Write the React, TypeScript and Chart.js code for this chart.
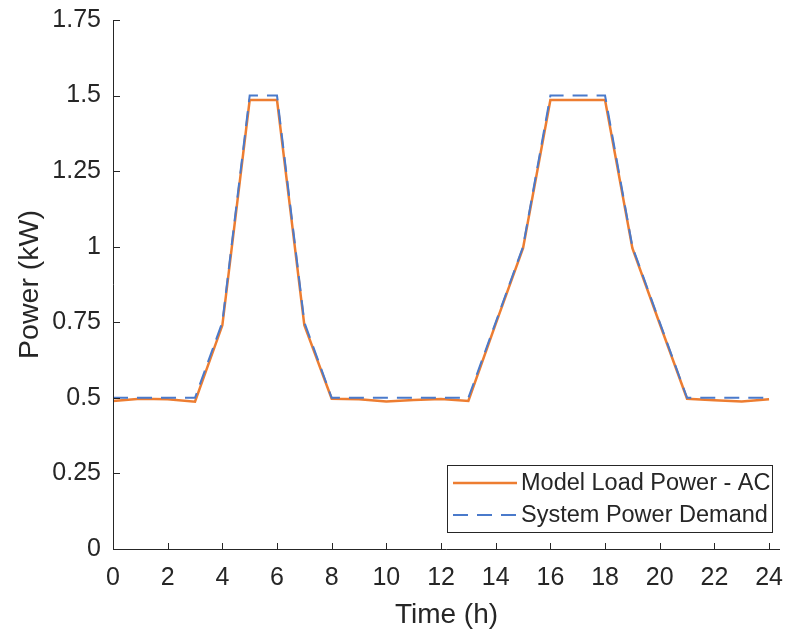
import { useEffect, useRef } from "react";
import { Chart, registerables } from "chart.js";

Chart.register(...registerables);

const hours = [0, 1, 2, 3, 4, 5, 6, 7, 8, 9, 10, 11, 12, 13, 14, 15, 16, 17, 18, 19, 20, 21, 22, 23, 24];
const modelLoadAC = [0.49, 0.497, 0.495, 0.487, 0.74, 1.485, 1.485, 0.74, 0.497, 0.495, 0.488, 0.493, 0.496, 0.49, 0.745, 0.995, 1.485, 1.485, 1.485, 0.995, 0.745, 0.497, 0.492, 0.488, 0.495];
const systemDemand = [0.5, 0.5, 0.5, 0.5, 0.75, 1.5, 1.5, 0.75, 0.5, 0.5, 0.5, 0.5, 0.5, 0.5, 0.75, 1.0, 1.5, 1.5, 1.5, 1.0, 0.75, 0.5, 0.5, 0.5, 0.5];
const seriesLabels = ["Model Load Power - AC", "System Power Demand"];
const xTickValues = [0, 2, 4, 6, 8, 10, 12, 14, 16, 18, 20, 22, 24];
const yTickValues = [0, 0.25, 0.5, 0.75, 1, 1.25, 1.5, 1.75];
const yTickLabels = ["0", "0.25", "0.5", "0.75", "1", "1.25", "1.5", "1.75"];

const FONT = "'Liberation Sans', Arial, Helvetica, sans-serif";
const INK = "#262626";
const ORANGE = "#ED7D31";
const BLUE = "#4A7ACB";

const axesPlugin = {
  id: "matlabAxes",
  afterDraw(chart: any) {
    const { ctx, chartArea, scales } = chart;
    const xs = scales.x;
    const ys = scales.y;
    ctx.save();
    ctx.strokeStyle = INK;
    ctx.lineWidth = 1;
    ctx.beginPath();
    ctx.moveTo(chartArea.left + 0.5, chartArea.top);
    ctx.lineTo(chartArea.left + 0.5, chartArea.bottom + 0.5);
    ctx.lineTo(chartArea.right, chartArea.bottom + 0.5);
    ctx.stroke();
    ctx.beginPath();
    for (const v of xTickValues) {
      const px = Math.round(xs.getPixelForValue(v)) + 0.5;
      ctx.moveTo(px, chartArea.bottom);
      ctx.lineTo(px, chartArea.bottom - 6);
    }
    for (const v of yTickValues) {
      const py = Math.round(ys.getPixelForValue(v)) + 0.5;
      ctx.moveTo(chartArea.left, py);
      ctx.lineTo(chartArea.left + 7, py);
    }
    ctx.stroke();

    // legend box (southeast)
    const boxRight = chartArea.right - 7;
    const boxLeft = boxRight - 326;
    const boxBottom = chartArea.bottom - 16;
    const boxTop = boxBottom - 68;
    ctx.fillStyle = "#ffffff";
    ctx.fillRect(boxLeft, boxTop, boxRight - boxLeft, boxBottom - boxTop);
    ctx.strokeStyle = INK;
    ctx.lineWidth = 1;
    ctx.strokeRect(boxLeft + 0.5, boxTop + 0.5, boxRight - boxLeft - 1, boxBottom - boxTop - 1);
    const rows = [boxTop + 18, boxTop + 50];
    chart.data.datasets.forEach((ds: any, i: number) => {
      const y = rows[i];
      ctx.save();
      ctx.strokeStyle = ds.borderColor;
      ctx.lineWidth = ds.borderWidth;
      ctx.setLineDash(ds.borderDash || []);
      ctx.beginPath();
      ctx.moveTo(boxLeft + 6, y);
      ctx.lineTo(boxLeft + 70, y);
      ctx.stroke();
      ctx.restore();
      ctx.fillStyle = INK;
      ctx.font = `23.5px ${FONT}`;
      ctx.textBaseline = "middle";
      ctx.textAlign = "left";
      ctx.fillText(ds.label, boxLeft + 74, y + 1);
    });
    ctx.restore();
  },
};

export default function App() {
  const ref = useRef<HTMLCanvasElement | null>(null);
  useEffect(() => {
    document.body.style.margin = "0";
    const canvas = ref.current;
    if (!canvas) return;
    const chart = new Chart(canvas, {
      type: "line",
      data: {
        datasets: [
          {
            label: seriesLabels[0],
            data: hours.map((h, i) => ({ x: h, y: modelLoadAC[i] })),
            borderColor: ORANGE,
            borderWidth: 2.5,
            pointRadius: 0,
            tension: 0,
            fill: false,
            order: 1,
          },
          {
            label: seriesLabels[1],
            data: hours.map((h, i) => ({ x: h, y: systemDemand[i] })),
            borderColor: BLUE,
            borderWidth: 2,
            borderDash: [15, 9],
            pointRadius: 0,
            tension: 0,
            fill: false,
            order: 0,
          },
        ],
      },
      options: {
        animation: false,
        responsive: false,
        maintainAspectRatio: false,
        layout: { padding: { left: 0, right: 5, top: 20, bottom: 0 } },
        plugins: { legend: { display: false }, tooltip: { enabled: false } },
        scales: {
          x: {
            type: "linear",
            min: 0,
            max: 24.4,
            afterBuildTicks: (scale: any) => {
              scale.ticks = xTickValues.map((v) => ({ value: v }));
            },
            afterFit: (scale: any) => {
              scale.height = 83;
              scale.paddingLeft = 0;
              scale.paddingRight = 0;
              scale.paddingTop = 0;
              scale.paddingBottom = 0;
            },
            grid: { display: false, drawTicks: false },
            border: { display: false },
            ticks: {
              padding: 14,
              color: INK,
              font: { family: FONT, size: 25 },
              callback: (v: any) => String(v),
              maxRotation: 0,
              autoSkip: false,
            },
            title: {
              display: true,
              text: "Time (h)",
              color: INK,
              font: { family: FONT, size: 28 },
              padding: { top: 0, bottom: 0 },
            },
          },
          y: {
            type: "linear",
            min: 0,
            max: 1.75,
            afterBuildTicks: (scale: any) => {
              scale.ticks = yTickValues.map((v) => ({ value: v }));
            },
            afterFit: (scale: any) => {
              scale.width = 113;
              scale.paddingLeft = 0;
              scale.paddingRight = 0;
              scale.paddingTop = 0;
              scale.paddingBottom = 0;
            },
            grid: { display: false, drawTicks: false },
            border: { display: false },
            ticks: {
              padding: 12,
              color: INK,
              font: { family: FONT, size: 25 },
              autoSkip: false,
              callback: (v: any) => {
                const idx = yTickValues.indexOf(Number(v));
                return idx >= 0 ? yTickLabels[idx] : "";
              },
            },
            title: {
              display: true,
              text: "Power (kW)",
              color: INK,
              font: { family: FONT, size: 28.5 },
              padding: { top: 13, bottom: 0 },
            },
          },
        },
      },
      plugins: [axesPlugin],
    });
    return () => chart.destroy();
  }, []);
  return (
    <div style={{ width: 785, height: 632, background: "#ffffff" }}>
      <canvas ref={ref} width={785} height={632} style={{ display: "block" }} />
    </div>
  );
}
